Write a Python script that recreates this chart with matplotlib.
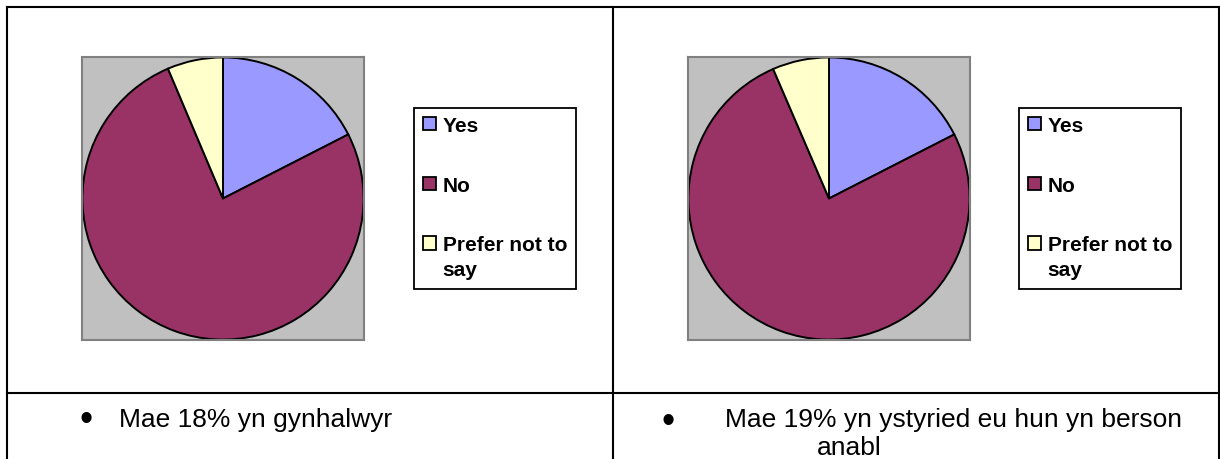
import matplotlib
matplotlib.use("Agg")
import matplotlib.pyplot as plt
from matplotlib.patches import Patch
from matplotlib.lines import Line2D

# ---- data ----
categories = ["Yes", "No", "Prefer not to\nsay"]
colors = ["#9999FF", "#993366", "#FFFFCC"]
carers_values = [17.5, 76.1, 6.4]
disabled_values = [17.5, 76.0, 6.5]
caption_left = "Mae 18% yn gynhalwyr"
caption_right = "Mae 19% yn ystyried eu hun yn berson"
caption_right_cont = "anabl"

plt.rcParams['font.family'] = ['Liberation Sans', 'DejaVu Sans']

W, H = 1220, 459
fig = plt.figure(figsize=(W / 100, H / 100), dpi=100)


def fx(x):
    return x / W


def fy(y):
    return 1 - y / H


def px_axes(x0, y0, w, h):
    return fig.add_axes([x0 / W, 1 - (y0 + h) / H, w / W, h / H])


def line(x0, y0, x1, y1):
    fig.add_artist(Line2D([fx(x0), fx(x1)], [fy(y0), fy(y1)], color='black',
                          lw=1.5, solid_capstyle='projecting'))


# table borders
line(7, 6.5, 1220, 6.5)
line(7, 6.5, 7, 459)
line(612.7, 6.5, 612.7, 459)
line(1218.8, 6.5, 1218.8, 459)
line(7, 392.7, 1220, 392.7)


def draw_panel(x_box, values, x_leg):
    ax = px_axes(x_box, 57, 282, 283)
    ax.pie(values, colors=colors, startangle=90, counterclock=False, radius=1,
           frame=True,
           wedgeprops=dict(edgecolor='black', linewidth=1.4, clip_on=False))
    ax.set_xlim(-1.003, 1.003)
    ax.set_ylim(-1.003, 1.003)
    ax.set_aspect('auto')
    ax.set_xticks([])
    ax.set_yticks([])
    ax.set_facecolor('#C0C0C0')
    for s in ax.spines.values():
        s.set_color('#808080')
        s.set_linewidth(1.5)

    handles = [Patch(facecolor=c, edgecolor='black', linewidth=1.3) for c in colors]
    leg = fig.legend(handles, categories, loc='upper left',
                     bbox_to_anchor=(fx(x_leg), fy(108)), bbox_transform=fig.transFigure,
                     borderaxespad=0,
                     prop=dict(family='Liberation Sans', weight='bold', size=15),
                     handlelength=0.62, handleheight=0.62, handletextpad=0.34,
                     labelspacing=1.96, borderpad=0.42, frameon=True, fancybox=False,
                     edgecolor='black', framealpha=1)
    leg.get_frame().set_linewidth(1.3)
    for t in leg.get_texts():
        t.set_linespacing(1.4)
    for col in leg._legend_handle_box.get_children():
        for item in col.get_children():
            item.align = 'top'
    return ax


draw_panel(82, carers_values, 414)
draw_panel(688, disabled_values, 1019)

# captions
fig.text(fx(86), fy(431), "\u2022", ha='center', va='baseline', fontsize=27)
fig.text(fx(119), fy(427), caption_left, ha='left', va='baseline', fontsize=19)
fig.text(fx(668), fy(433), "\u2022", ha='center', va='baseline', fontsize=27)
fig.text(fx(725), fy(427), caption_right, ha='left', va='baseline', fontsize=19)
fig.text(fx(817), fy(455), caption_right_cont, ha='left', va='baseline', fontsize=19)

fig.savefig("out.png", dpi=100)
